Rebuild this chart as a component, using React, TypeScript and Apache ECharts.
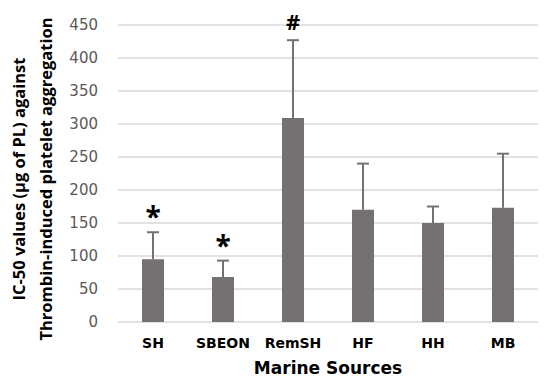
import React, { useEffect, useRef } from "react";
import * as echarts from "echarts";

const categories = ["SH", "SBEON", "RemSH", "HF", "HH", "MB"];
const means = [95, 68, 309, 170, 150, 173];
const errors = [41, 25, 118, 70, 25, 82];
const marks = ["*", "*", "#", "", "", ""];
const yTicks = { min: 0, max: 450, interval: 50 };

const BAR = "#767171";

export default function App() {
  const ref = useRef<HTMLDivElement>(null);
  useEffect(() => {
    document.body.style.margin = "0";
    const chart = echarts.init(ref.current!, null, { renderer: "svg" });
    const errData = categories.map((c, i) => [i, means[i], means[i] + errors[i], marks[i]]);
    chart.setOption({
      animation: false,
      backgroundColor: "#ffffff",
      grid: { left: 118, right: 12, top: 25, bottom: 63 },
      xAxis: {
        type: "category",
        data: categories,
        axisLine: { show: false },
        axisTick: { show: false },
        axisLabel: {
          interval: 0,
          hideOverlap: false,
          margin: 14,
          fontFamily: "DejaVu Sans",
          fontWeight: "bold",
          fontSize: 14,
          color: "#000",
        },
        name: "Marine Sources",
        nameLocation: "middle",
        nameGap: 37,
        nameTextStyle: {
          fontFamily: "DejaVu Sans",
          fontWeight: "bold",
          fontSize: 17,
          color: "#000",
        },
      },
      yAxis: {
        type: "value",
        min: yTicks.min,
        max: yTicks.max,
        interval: yTicks.interval,
        axisLine: { show: false },
        axisTick: { show: false },
        axisLabel: {
          margin: 20,
          fontFamily: "DejaVu Sans",
          fontSize: 15,
          color: "#595959",
        },
        splitLine: { lineStyle: { color: "#d9d9d9", width: 1.5 } },
      },
      graphic: [
        {
          type: "text",
          x: 18,
          y: 179,
          rotation: Math.PI / 2,
          style: {
            text: "IC-50 values (µg of PL) against",
            fontFamily: "Open Sans",
            fontWeight: "bold",
            fontSize: 16.5,
            fill: "#000",
            align: "center",
            verticalAlign: "middle",
          },
        },
        {
          type: "text",
          x: 45,
          y: 179,
          rotation: Math.PI / 2,
          style: {
            text: "Thrombin-induced platelet aggregation",
            fontFamily: "Open Sans",
            fontWeight: "bold",
            fontSize: 16.5,
            fill: "#000",
            align: "center",
            verticalAlign: "middle",
          },
        },
      ],
      series: [
        {
          type: "bar",
          data: means,
          barWidth: 22,
          itemStyle: { color: BAR },
        },
        {
          type: "custom",
          data: errData,
          renderItem: (params: any, api: any) => {
            const x = api.value(0);
            const base = api.coord([x, api.value(1)]);
            const top = api.coord([x, api.value(2)]);
            const mark = marks[params.dataIndex];
            const children: any[] = [
              {
                type: "line",
                shape: { x1: base[0], y1: base[1], x2: top[0], y2: top[1] },
                style: { stroke: BAR, lineWidth: 2 },
              },
              {
                type: "line",
                shape: { x1: top[0] - 6, y1: top[1], x2: top[0] + 6, y2: top[1] },
                style: { stroke: BAR, lineWidth: 2 },
              },
            ];
            if (mark) {
              children.push({
                type: "text",
                x: top[0],
                y: top[1] - (mark === "*" ? 16 : 19),
                style: {
                  text: mark,
                  fontFamily: "Open Sans",
                  fontWeight: "bold",
                  fontSize: mark === "*" ? 28 : 22,
                  fill: "#000",
                  align: "center",
                  verticalAlign: "middle",
                },
              });
            }
            return { type: "group", children };
          },
          z: 3,
        },
      ],
    });
    return () => chart.dispose();
  }, []);
  return <div ref={ref} style={{ width: 550, height: 385 }} />;
}
